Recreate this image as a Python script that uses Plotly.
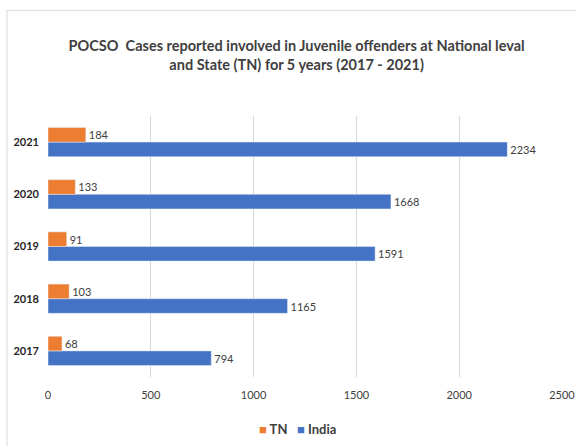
import plotly.graph_objects as go

years = ["2017", "2018", "2019", "2020", "2021"]
tn = [68, 103, 91, 133, 184]
india = [794, 1165, 1591, 1668, 2234]
x_ticks = [0, 500, 1000, 1500, 2000, 2500]

FONT = "Lato, Open Sans, sans-serif"
TXT = "#404040"
C_TN = "#ED7D31"
C_IN = "#4472C4"

fig = go.Figure()
fig.add_trace(go.Bar(y=years, x=india, name="India", orientation="h",
                     marker_color=C_IN, text=india, textposition="outside",
                     textfont=dict(size=11, color=TXT, family=FONT), cliponaxis=False))
fig.add_trace(go.Bar(y=years, x=tn, name="TN", orientation="h",
                     marker_color=C_TN, text=tn, textposition="outside",
                     textfont=dict(size=11, color=TXT, family=FONT), cliponaxis=False))

legend_text = (f"<span style='color:{C_TN}'>■</span> TN   "
               f"<span style='color:{C_IN}'>■</span> India")

fig.update_layout(
    width=576, height=446,
    paper_bgcolor="white", plot_bgcolor="white",
    barmode="group", bargap=0.44, bargroupgap=0,
    showlegend=False,
    margin=dict(l=48, r=14, t=116, b=69, autoexpand=False),
    title=dict(text="<b>POCSO  Cases reported involved in Juvenile offenders at National leval<br>and State (TN) for 5 years (2017 - 2021)</b>",
               x=0.515, xanchor="center", y=0.885, yanchor="middle",
               font=dict(family=FONT, size=14.5, color=TXT)),
    font=dict(family=FONT, size=11, color=TXT),
    annotations=[dict(text=legend_text, xref="paper", yref="paper", x=0.485, y=-0.2,
                      xanchor="center", yanchor="middle", showarrow=False,
                      font=dict(size=13, color=TXT, family=FONT, weight="bold"))],
    xaxis=dict(range=[0, 2500], tickvals=x_ticks, showgrid=True, gridcolor="#D9D9D9",
               gridwidth=1, zeroline=False, showline=False, ticks="", ticklabelstandoff=10,
               tickfont=dict(size=11, color=TXT)),
    yaxis=dict(categoryorder="array", categoryarray=years, showgrid=False,
               showline=False, ticks="", ticklabelstandoff=8,
               tickfont=dict(size=11, color="#262626", weight="bold")),
    shapes=[
        dict(type="line", xref="paper", yref="paper", x0=-0.08, x1=1.1, y0=1.405, y1=1.405,
             line=dict(color="#D9D9D9", width=1)),
        dict(type="line", xref="paper", yref="paper", x0=-0.0797, x1=-0.0797, y0=1.405, y1=-0.3,
             line=dict(color="#D9D9D9", width=1)),
    ],
)
fig.write_html("out.html")
